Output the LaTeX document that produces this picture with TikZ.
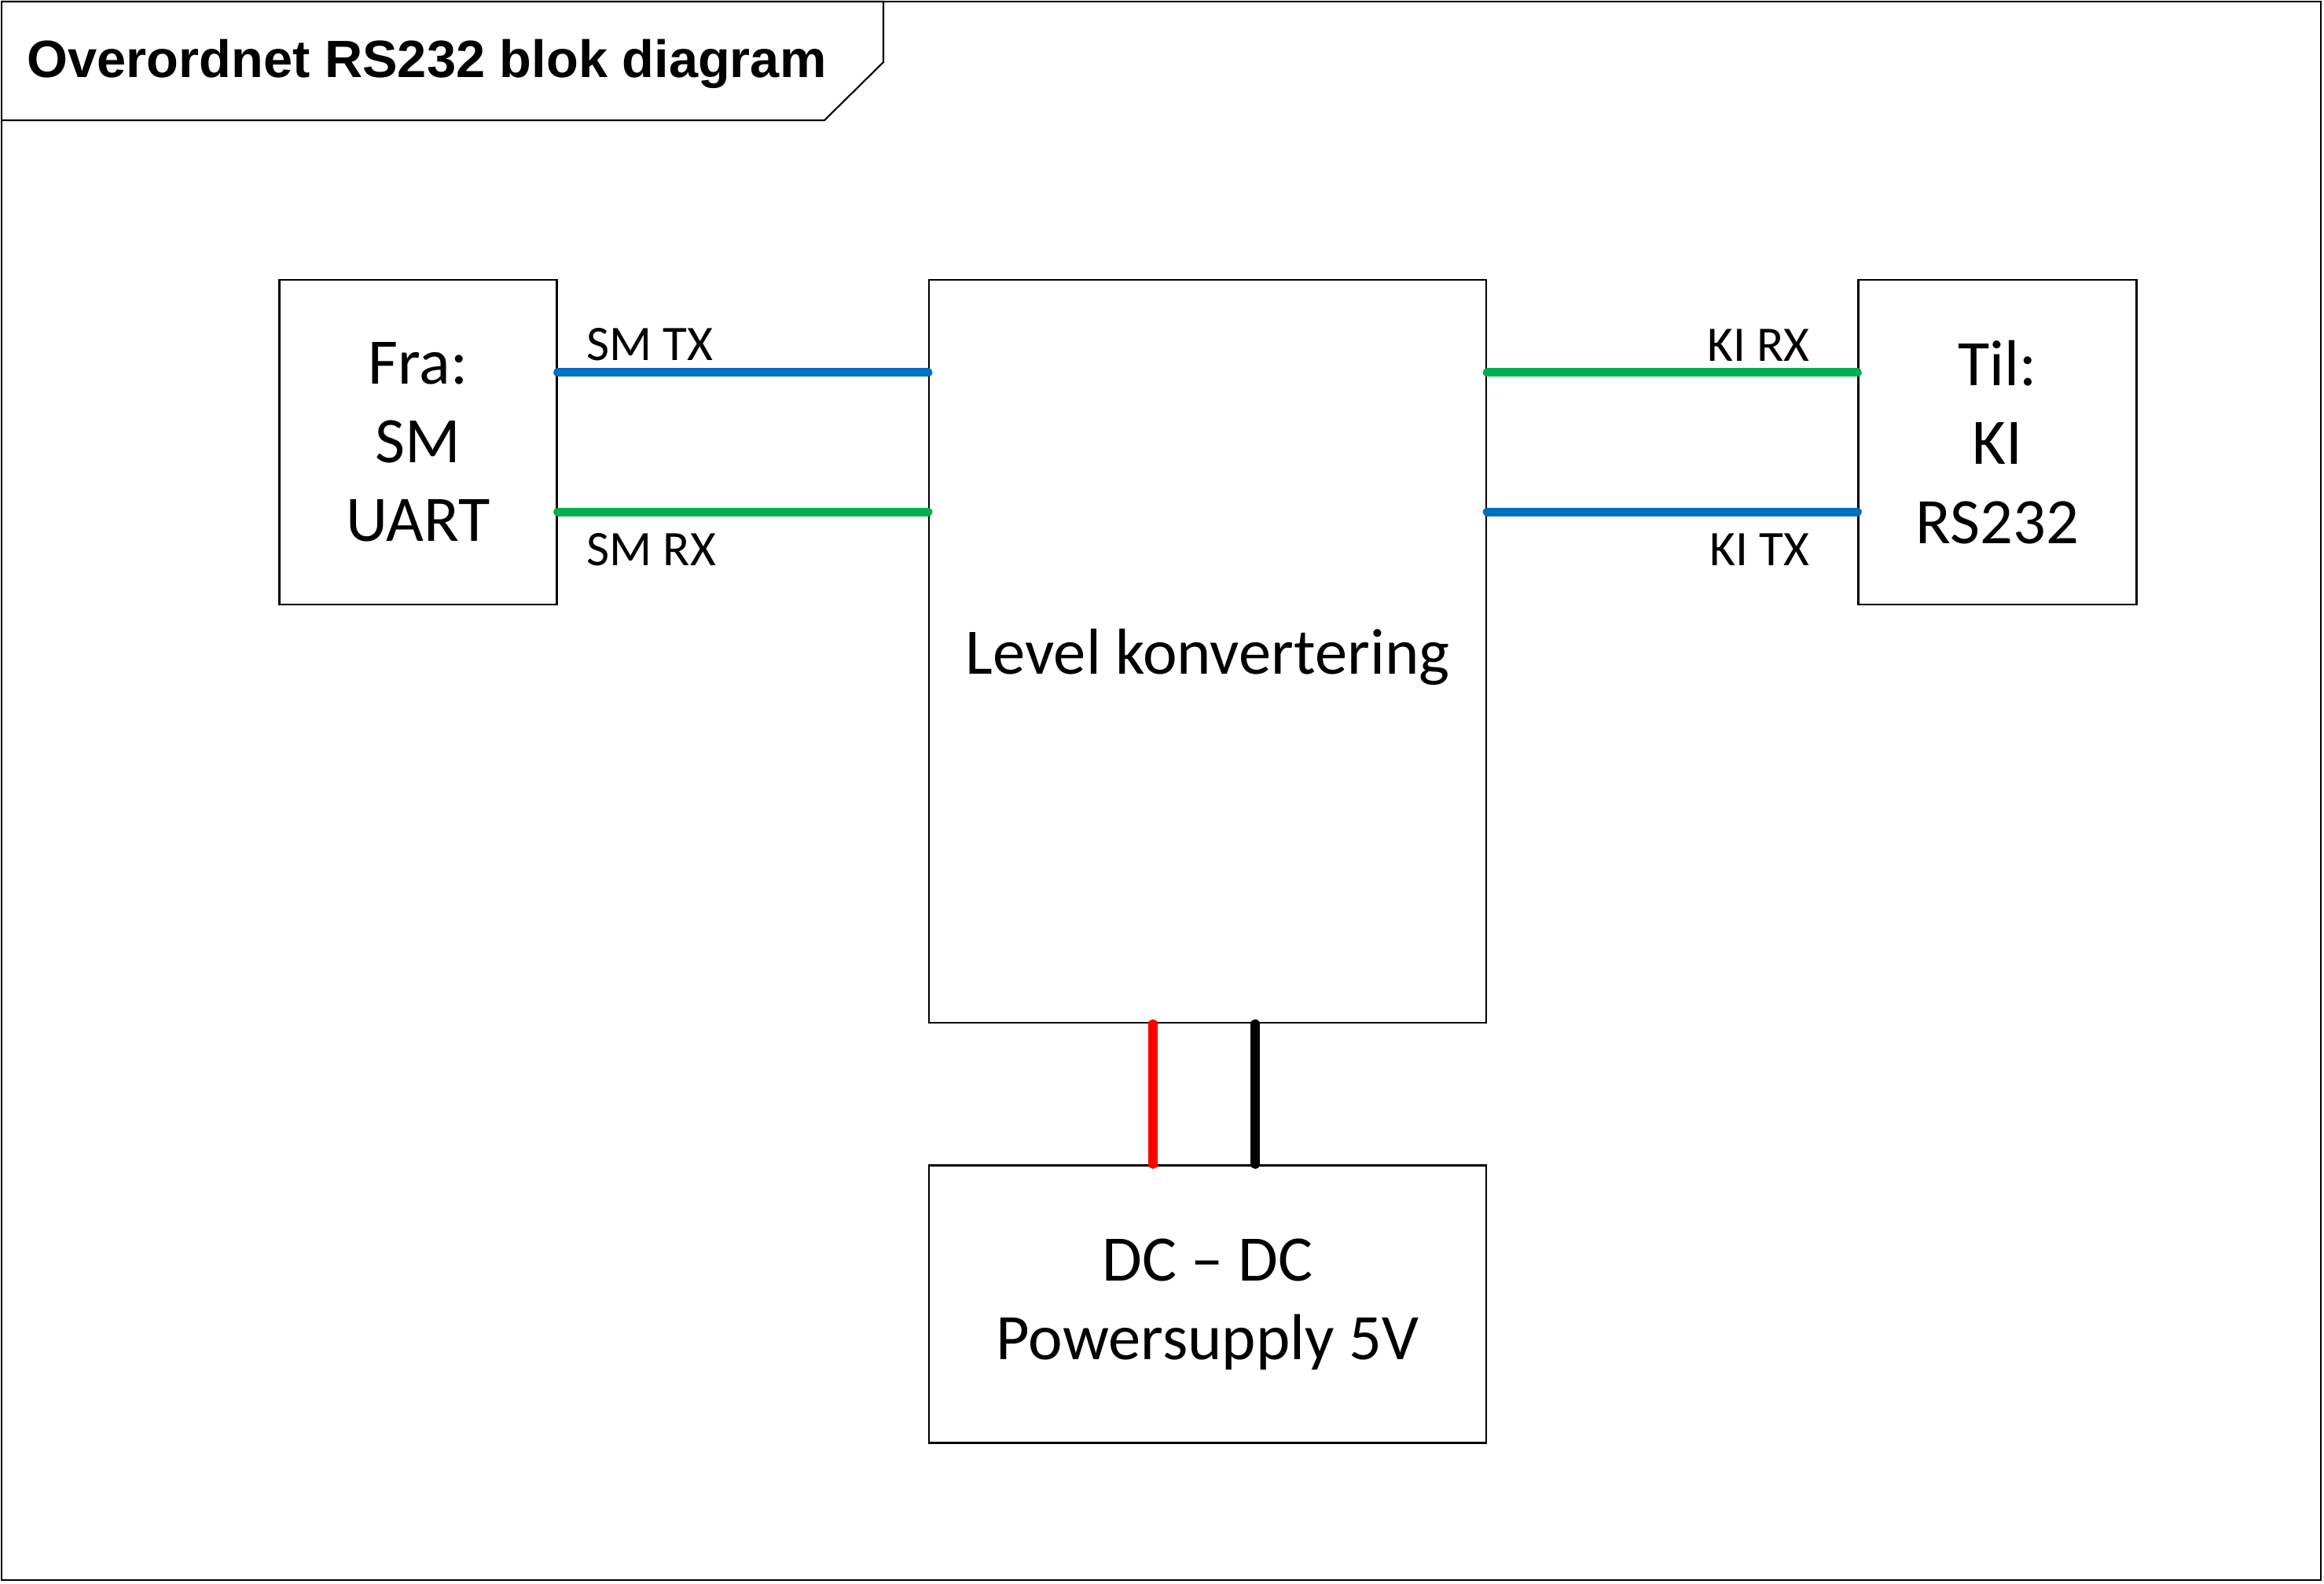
\documentclass[tikz,border=0pt]{standalone}
\usepackage{fontspec}
\setmainfont{Carlito}
\newfontfamily\titelfont{Liberation Sans}
\usetikzlibrary{positioning}
\definecolor{blaa}{HTML}{0070C0}
\definecolor{groen}{HTML}{00B050}
\definecolor{roed}{HTML}{FF0000}

\begin{document}
\begin{tikzpicture}[
      blok/.style={draw=black,line width=0.7pt,align=center,inner sep=0pt,
                   font=\fontsize{23.5}{28.5}\selectfont},
      lbl/.style={inner sep=0pt,font=\fontsize{18}{21}\selectfont},
      leder/.style={line width=3.2pt,line cap=round},
      ramme/.style={line width=0.6pt},
      node distance=4.71cm]
    \useasboundingbox (0,0) rectangle (29.57,-20.14);
    % ramme og titel
    \draw[ramme] (0.02,-0.02) rectangle (29.53,-20.10);
    \draw[ramme] (0.02,-0.02) -- (11.24,-0.02) -- (11.24,-0.79) -- (10.49,-1.53) -- (0.02,-1.53);
    \node[anchor=base west,inner sep=0pt,font=\titelfont\bfseries\fontsize{19}{23}\selectfont] (titel) at (0.34,-0.98) {Overordnet RS232 blok diagram};
    % blokke
    \node[blok,minimum width=7.09cm,minimum height=9.45cm,text depth=0pt] (level) at (15.365,-8.285) {Level konvertering};
    \node[blok,minimum width=3.53cm,minimum height=4.13cm,left=of level.north west,anchor=north east] (fra) {Fra:\\SM\\UART};
    \node[blok,minimum width=3.54cm,minimum height=4.13cm,right=of level.north east,anchor=north west] (til) {Til:\\KI\\RS232};
    \node[blok,minimum width=7.09cm,minimum height=3.53cm,below=1.79cm of level] (dc) {DC \textendash{} DC\\Powersupply 5V};
    % signaler
    \draw[leder,blaa] ([yshift=-1.19cm]fra.north east) -- ([yshift=-1.19cm]level.north west);
    \draw[leder,groen] ([yshift=-2.965cm]fra.north east) -- ([yshift=-2.965cm]level.north west);
    \draw[leder,groen] ([yshift=-1.19cm]level.north east) -- ([yshift=-1.19cm]til.north west);
    \draw[leder,blaa] ([yshift=-2.965cm]level.north east) -- ([yshift=-2.965cm]til.north west);
    \node[lbl,anchor=base west] (smtx) at ([xshift=0.36cm,yshift=-1.04cm]fra.north east) {SM TX};
    \node[lbl,anchor=base west] (smrx) at ([xshift=0.36cm,yshift=-3.65cm]fra.north east) {SM RX};
    \node[lbl,anchor=base east] (kirx) at ([xshift=-0.60cm,yshift=-1.05cm]til.north west) {KI RX};
    \node[lbl,anchor=base east] (kitx) at ([xshift=-0.60cm,yshift=-3.65cm]til.north west) {KI TX};
    % forsyning
    \draw[leder,roed] ([xshift=-0.695cm]level.south) -- ([xshift=-0.695cm]dc.north);
    \draw[leder,black] ([xshift=0.605cm]level.south) -- ([xshift=0.605cm]dc.north);
  \end{tikzpicture}
\end{document}
